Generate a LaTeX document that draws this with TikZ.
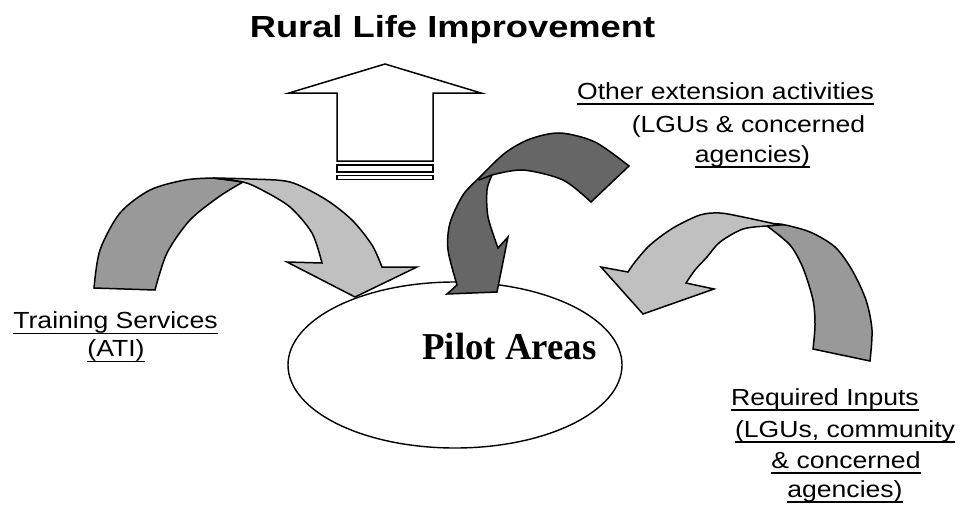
\documentclass[tikz,border=0pt]{standalone}
\usepackage{fontspec}
\setmainfont{Liberation Sans}
\newfontfamily\timesfont{Liberation Serif}
\newcommand\ulin[1]{\setbox0=\hbox{#1}\rlap{\rule[-5.6pt]{\wd0}{1.5pt}}\box0}
\definecolor{lightg}{HTML}{C0C0C0}
\definecolor{darkg}{HTML}{999999}
\definecolor{midg}{HTML}{666666}
\tikzset{
  outl/.style={draw=black, line width=1.5pt, line join=miter},
  lightpart/.style={outl, fill=lightg},
  darkpart/.style={outl, fill=darkg},
  midpart/.style={outl, fill=midg},
  lbl/.style={inner sep=0pt, anchor=base, font=\fontsize{23.3}{28}\selectfont, xscale=1.14},
  titlelbl/.style={inner sep=0pt, anchor=base, font=\fontsize{30.5}{36}\selectfont\bfseries, xscale=1.19},
  pilotlbl/.style={inner sep=0pt, anchor=base, font=\fontsize{38}{44}\selectfont\timesfont\bfseries, xscale=0.97}
}
\begin{document}
\begin{tikzpicture}[x=1pt, y=-1pt]
\useasboundingbox (0,0) rectangle (961,504);
\fill[white] (0,0) rectangle (961,504);

% title
\node[titlelbl] (title) at (452.5,37) {Rural Life Improvement};

% ellipse
\draw[line width=1.4pt, fill=white] (455,365) ellipse [x radius=167pt, y radius=83pt];
\node[pilotlbl] (pilot) at (509.5,359) {Pilot Areas};

% up arrow
\draw[outl, fill=white] (385,64) -- (481,93) -- (433,93) -- (433,161) -- (337,161) -- (337,93) -- (289,93) -- cycle;
\draw[outl, fill=white] (337,165) rectangle (433,172);
\draw[outl, fill=white] (337,175.5) rectangle (433,179.5);

% left arrow (Training Services)
\filldraw[darkpart] (94,288) -- plot[smooth] coordinates {(94,288) (100,250) (120,213) (150,190) (185,180) (213,178)} -- (243,182) -- plot[smooth] coordinates {(243,182) (220,196) (190,220) (167,253) (155,290)} -- cycle;
\filldraw[lightpart] (213,178) -- plot[smooth] coordinates {(213,178) (250,179) (290,182) (325,199) (352,220) (372,245) (382,267)} -- (417,267) -- (355,297) -- (287,262) -- (322,263) -- plot[smooth] coordinates {(322,263) (312,233) (290,207) (262,190) (243,182) (213,178)} -- cycle;

% middle arrow (Other extension activities)
\filldraw[midpart] (629,166) -- (591,202) -- plot[smooth] coordinates {(591,202) (563,180) (523,170) (492,175)} -- plot[smooth] coordinates {(492,175) (487,190) (488,217) (498,248)} -- (508,237) -- (497,292) -- (447,294) -- (457,285) -- plot[smooth] coordinates {(457,285) (448,250) (450,223) (463,195) (480,177) (505,153) (530,139) (560,133) (595,142) (629,166)} -- cycle;
\draw[outl] (492,175) -- (479,180);

% right arrow (Required Inputs)
\filldraw[darkpart] (767,226) -- plot[smooth] coordinates {(767,226) (780,224) (810,232) (835,247) (852,270) (866,300) (872,330) (870,361)} -- (813,349) -- plot[smooth] coordinates {(813,349) (815,325) (813,300) (803,268) (790,245) (767,226)} -- cycle;
\filldraw[lightpart] (780,225) -- plot[smooth] coordinates {(780,225) (743,217) (720,213) (700,215) (673,228) (650,245) (635,262) (628,272)} -- (601,267) -- (643,314) -- (714,289) -- (686,283) -- plot[smooth] coordinates {(686,283) (695,270) (707,257) (720,242) (743,229) (767,226)} -- cycle;

% labels
\node[lbl] (oth1) at (725.5,99) {\ulin{Other extension activities}};
\node[lbl] (oth2) at (748.5,132) {(LGUs \& concerned};
\node[lbl] (oth3) at (752.5,162) {\ulin{agencies)}};

\node[lbl] (tr1) at (115.5,328.5) {\ulin{Training Services}};
\node[lbl] (tr2) at (116,356.5) {\ulin{(ATI)}};

\node[lbl] (req1) at (825,405) {\ulin{Required Inputs}};
\node[lbl] (req2) at (845,437) {\ulin{(LGUs, community}};
\node[lbl] (req3) at (846,468) {\ulin{\& concerned}};
\node[lbl] (req4) at (845,497) {\ulin{agencies)}};
\end{tikzpicture}
\end{document}
